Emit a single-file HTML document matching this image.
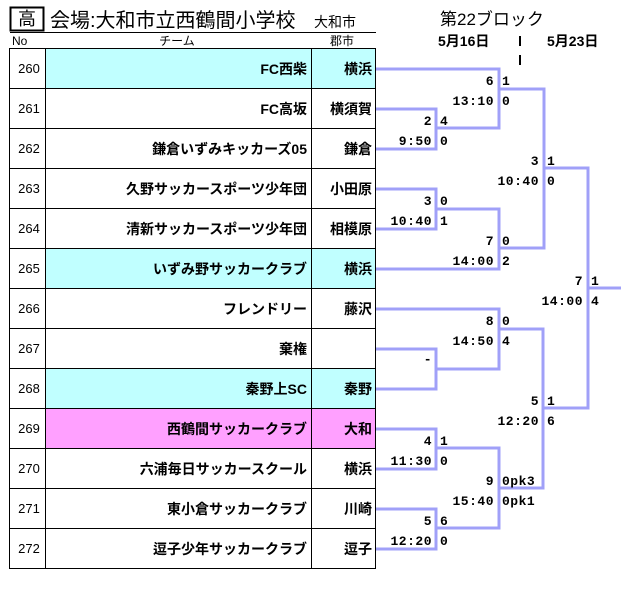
<!DOCTYPE html>
<html><head><meta charset="utf-8"><style>
html,body{margin:0;padding:0;background:#fff;}
svg{display:block;font-family:"Liberation Sans","Noto Sans CJK JP",sans-serif;}
.t{font-size:14px;font-weight:bold;}
.n{font-size:13px;}
.s{font-size:13px;font-weight:bold;font-family:"Liberation Mono","Noto Sans CJK JP",monospace;letter-spacing:0.5px;}
</style></head><body>
<svg width="631" height="591" viewBox="0 0 631 591" xmlns="http://www.w3.org/2000/svg">
<rect x="10.5" y="7.5" width="33" height="23" fill="none" stroke="#000" stroke-width="2"/>
<text x="27" y="25" font-size="18" text-anchor="middle">高</text>
<text x="50" y="27" font-size="20">会場:大和市立西鶴間小学校</text>
<text x="314" y="27" font-size="14">大和市</text>
<line x1="10" y1="32.5" x2="376" y2="32.5" stroke="#000"/>
<text x="12" y="45" font-size="12">No</text>
<text x="177" y="45" font-size="12" text-anchor="middle">チーム</text>
<text x="330" y="45" font-size="12">郡市</text>
<text x="440" y="25" font-size="17">第22ブロック</text>
<text x="438" y="46" class="t">5月16日</text>
<text x="547" y="46" class="t">5月23日</text>
<line x1="520" y1="36" x2="520" y2="46" stroke="#000" stroke-width="2"/>
<line x1="520" y1="55" x2="520" y2="65" stroke="#000" stroke-width="2"/>

<rect x="46" y="48" width="330" height="40" fill="#c0ffff"/>
<rect x="46" y="248" width="330" height="40" fill="#c0ffff"/>
<rect x="46" y="368" width="330" height="40" fill="#c0ffff"/>
<rect x="46" y="408" width="330" height="40" fill="#ffa0ff"/>
<g stroke="#000" stroke-width="1" fill="none">
<rect x="9.5" y="48.5" width="366" height="520"/>
<line x1="45.5" y1="48" x2="45.5" y2="569"/>
<line x1="311.5" y1="48" x2="311.5" y2="569"/>
<path d="M9 88.5H376M9 128.5H376M9 168.5H376M9 208.5H376M9 248.5H376M9 288.5H376M9 328.5H376M9 368.5H376M9 408.5H376M9 448.5H376M9 488.5H376M9 528.5H376"/>
</g>
<g class="n" text-anchor="middle">
<text x="29" y="73">260</text><text x="29" y="113">261</text><text x="29" y="153">262</text>
<text x="29" y="193">263</text><text x="29" y="233">264</text><text x="29" y="273">265</text>
<text x="29" y="313">266</text><text x="29" y="353">267</text><text x="29" y="393">268</text>
<text x="29" y="433">269</text><text x="29" y="473">270</text><text x="29" y="513">271</text>
<text x="29" y="553">272</text>
</g>
<g class="t" text-anchor="end">
<text x="307" y="74">FC西柴</text><text x="307" y="114">FC高坂</text>
<text x="307" y="154">鎌倉いずみキッカーズ05</text><text x="307" y="194">久野サッカースポーツ少年団</text>
<text x="307" y="234">清新サッカースポーツ少年団</text><text x="307" y="274">いずみ野サッカークラブ</text>
<text x="307" y="314">フレンドリー</text><text x="307" y="354">棄権</text>
<text x="307" y="394">秦野上SC</text><text x="307" y="434">西鶴間サッカークラブ</text>
<text x="307" y="474">六浦毎日サッカースクール</text><text x="307" y="514">東小倉サッカークラブ</text>
<text x="307" y="554">逗子少年サッカークラブ</text>
<text x="372" y="74">横浜</text><text x="372" y="114">横須賀</text><text x="372" y="154">鎌倉</text>
<text x="372" y="194">小田原</text><text x="372" y="234">相模原</text><text x="372" y="274">横浜</text>
<text x="372" y="314">藤沢</text><text x="372" y="394">秦野</text><text x="372" y="434">大和</text>
<text x="372" y="474">横浜</text><text x="372" y="514">川崎</text><text x="372" y="554">逗子</text>
</g>
<g stroke="#a0a0f8" stroke-width="3" fill="none">
<path d="M376 69H499V128H436"/>
<path d="M376 109H436V149H376"/>
<path d="M499 89H544V248H499"/>
<path d="M376 189H436V229H376M436 209H499V269H376"/>
<path d="M544 168H588V408H543"/>
<path d="M588 288H621"/>
<path d="M376 309H499V369H436M376 349H436V389H376"/>
<path d="M499 329H543V488H499"/>
<path d="M376 429H436V469H376M436 448H499V528H436M376 509H436V549H376"/>
</g>
<g class="s" text-anchor="end">
<text x="494" y="85">6</text><text x="494" y="105">13:10</text>
<text x="432" y="125">2</text><text x="432" y="145">9:50</text>
<text x="539" y="165">3</text><text x="539" y="185">10:40</text>
<text x="432" y="205">3</text><text x="432" y="225">10:40</text>
<text x="494" y="245">7</text><text x="494" y="265">14:00</text>
<text x="583" y="285">7</text><text x="583" y="305">14:00</text>
<text x="494" y="325">8</text><text x="494" y="345">14:50</text>
<text x="432" y="363">-</text>
<text x="539" y="405">5</text><text x="539" y="425">12:20</text>
<text x="432" y="445">4</text><text x="432" y="465">11:30</text>
<text x="494" y="485">9</text><text x="494" y="505">15:40</text>
<text x="432" y="525">5</text><text x="432" y="545">12:20</text>
</g>
<g class="s">
<text x="502" y="85">1</text><text x="502" y="105">0</text>
<text x="440" y="125">4</text><text x="440" y="145">0</text>
<text x="547" y="165">1</text><text x="547" y="185">0</text>
<text x="440" y="205">0</text><text x="440" y="225">1</text>
<text x="502" y="245">0</text><text x="502" y="265">2</text>
<text x="591" y="285">1</text><text x="591" y="305">4</text>
<text x="502" y="325">0</text><text x="502" y="345">4</text>
<text x="547" y="405">1</text><text x="547" y="425">6</text>
<text x="440" y="445">1</text><text x="440" y="465">0</text>
<text x="502" y="485">0pk3</text><text x="502" y="505">0pk1</text>
<text x="440" y="525">6</text><text x="440" y="545">0</text>
</g>
</svg>
</body></html>
